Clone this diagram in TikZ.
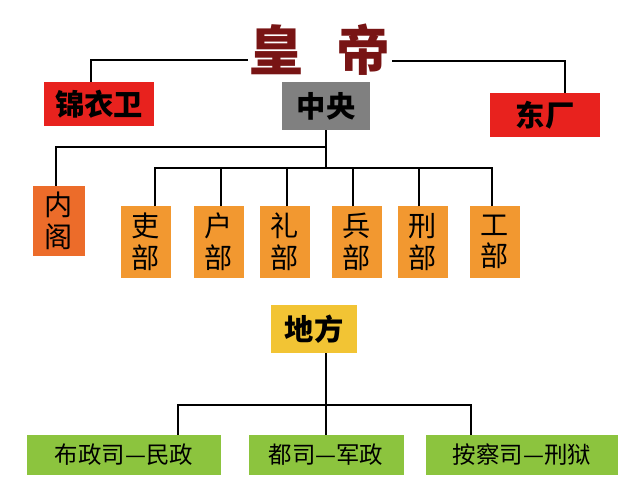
\documentclass[tikz,border=0pt]{standalone}
\usepackage{fontspec}
\newfontfamily\cjk{Noto Sans CJK SC}
\definecolor{boxred}{RGB}{232,34,30}
\definecolor{boxgray}{RGB}{128,128,128}
\definecolor{boxneige}{RGB}{236,108,42}
\definecolor{boxorange}{RGB}{242,152,48}
\definecolor{boxyellow}{RGB}{242,196,52}
\definecolor{boxgreen}{RGB}{140,196,62}
\definecolor{emperor}{RGB}{120,20,20}
\tikzset{
	box/.style={inner sep=0pt, font=\cjk\fontsize{20}{22}\selectfont},
	bigbox/.style={box, font=\cjk\bfseries\fontsize{25}{27}\selectfont},
	bu/.style={box, fill=boxorange, minimum width=15mm, minimum height=21.3mm, align=center, font=\cjk\fontsize{24}{27}\selectfont},
	loc/.style={box, fill=boxgreen, minimum height=12mm, font=\cjk\fontsize{20}{22}\selectfont},
	wire/.style={line width=1.2pt}
}
\begin{document}
\begin{tikzpicture}[x=0.3mm,y=-0.3mm]
		\useasboundingbox (0,0) rectangle (639,494);
		%Kaiser
		\node[box, text=emperor, font=\cjk\bfseries\fontsize{46}{48}\selectfont] (huangdi) at (320,50) {皇\hspace{0.6em}帝};
		\node[bigbox, fill=boxred, minimum width=33mm, minimum height=13.2mm] (jinyiwei) at (99,104) {锦衣卫};
		\node[bigbox, fill=boxred, minimum width=33mm, minimum height=13.2mm] (dongchang) at (545,115) {东厂};
		\node[bigbox, fill=boxgray, minimum width=26.4mm, minimum height=14.4mm] (zhongyang) at (326,106) {中央};
		%Zentrale
		\node[bu, fill=boxneige, minimum width=15.6mm, minimum height=21mm] (neige) at (59,221) {内\\阁};
		\node[bu] (libu) at (146,242) {吏\\部};
		\node[bu] (hubu) at (219,242) {户\\部};
		\node[bu] (lizhi) at (285,242) {礼\\部};
		\node[bu] (bingbu) at (357,242) {兵\\部};
		\node[bu] (xingbu) at (423,242) {刑\\部};
		\node[bu] (gongbu) at (495,242) {工\\部};
		%Lokal
		\node[bigbox, fill=boxyellow, minimum width=26mm, minimum height=14.5mm] (difang) at (314,329) {地方};
		\node[loc, minimum width=58mm] (buzheng) at (124,455) {布政司—民政};
		\node[loc, minimum width=46.5mm] (dusi) at (326,455) {都司—军政};
		\node[loc, minimum width=57.5mm] (ancha) at (522,455) {按察司—刑狱};

		\draw[wire] (huangdi.west |- 0,60) ++(-2,0) -| (jinyiwei.north -| 91,0);
		\draw[wire] (huangdi.east |- 0,61) ++(2,0) -| (dongchang.north -| 565,0);
		\draw[wire] (zhongyang.south) -- (326,168);
		\draw[wire] (326,147) -| (neige.north -| 56,0);
		\draw[wire] (libu.north -| 155,0) |- (492,168) -- (gongbu.north -| 492,0);
		\foreach \n/\x in {hubu/221, lizhi/287, bingbu/353, xingbu/419}
			\draw[wire] (\n.north -| \x,0) -- (\x,168);
		\draw[wire] (difang.south -| 326,0) -- (dusi.north);
		\draw[wire] (buzheng.north -| 178,0) |- (471,405) -- (ancha.north -| 471,0);
	\end{tikzpicture}
\end{document}
